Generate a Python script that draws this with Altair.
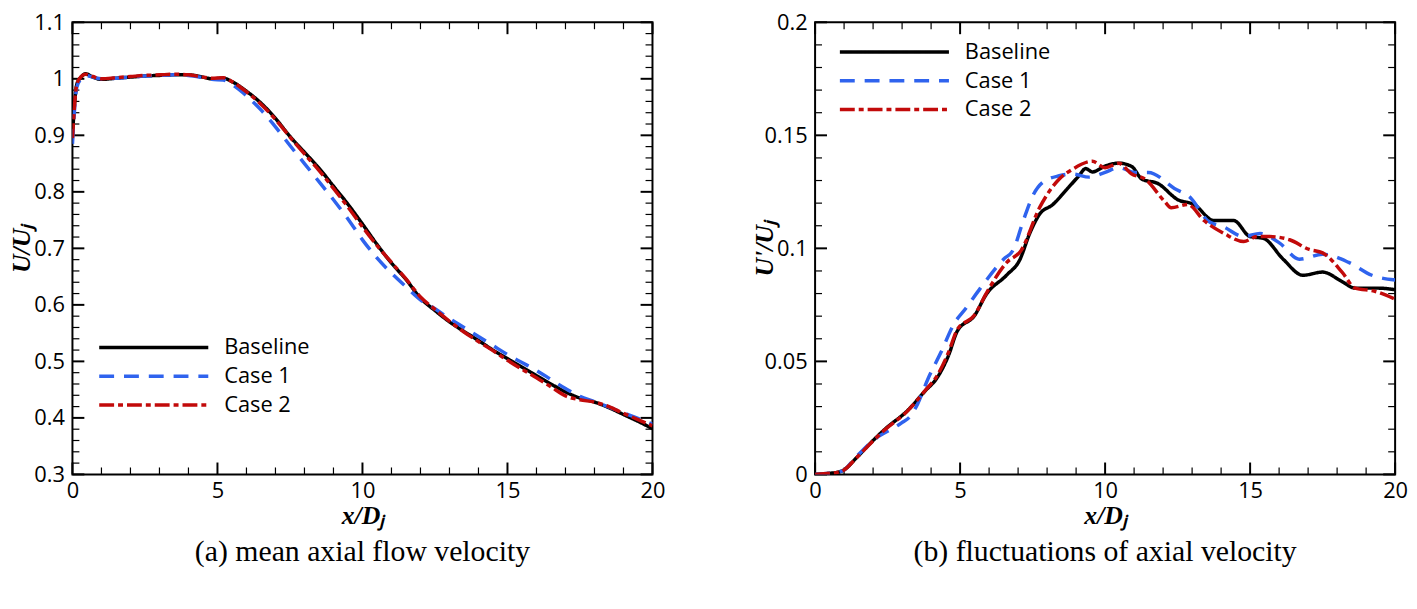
import altair as alt
import pandas as pd

SERIES = ["Baseline", "Case 1", "Case 2"]
COLORS = ["#000000", "#2f63ee", "#c20a0a"]
DASHES = [[1, 0], [15, 10], [15, 4, 5, 4]]

# ---------------- panel (a): mean axial flow velocity ----------------
A_X = [0, 0.15, 0.3, 0.45, 0.7, 1.0, 1.5, 2, 2.5, 3, 3.5, 4, 4.5, 4.8, 5.2,
       5.5, 6, 6.5, 7, 7.5, 8, 8.5, 9, 9.5, 10, 10.5, 11, 11.5, 12, 12.5,
       13, 13.5, 14, 14.5, 15, 15.5, 16, 16.5, 17, 17.5, 18, 18.5, 19, 19.5, 20]
A_BASE = [0.90, 0.99, 1.003, 1.009, 1.003, 0.999, 1.001, 1.003, 1.005, 1.006,
          1.007, 1.007, 1.003, 1.000, 1.001, 0.995, 0.978, 0.957, 0.930, 0.898,
          0.870, 0.842, 0.810, 0.778, 0.743, 0.707, 0.674, 0.645, 0.612, 0.590,
          0.570, 0.553, 0.537, 0.520, 0.505, 0.490, 0.475, 0.460, 0.446, 0.435,
          0.428, 0.418, 0.406, 0.394, 0.381]
A_CASE1 = [0.885, 0.985, 1.0, 1.006, 1.003, 1.0, 1.001, 1.003, 1.005, 1.006,
           1.007, 1.006, 1.002, 0.999, 0.998, 0.990, 0.970, 0.945, 0.915, 0.882,
           0.850, 0.818, 0.786, 0.752, 0.715, 0.683, 0.656, 0.632, 0.609, 0.593,
           0.576, 0.560, 0.544, 0.528, 0.512, 0.498, 0.484, 0.468, 0.452, 0.438,
           0.429, 0.419, 0.409, 0.399, 0.389]
A_CASE2 = [0.895, 0.99, 1.004, 1.008, 1.004, 1.0, 1.002, 1.004, 1.006, 1.007,
           1.008, 1.007, 1.003, 1.001, 1.002, 0.995, 0.977, 0.955, 0.928, 0.897,
           0.867, 0.838, 0.806, 0.773, 0.738, 0.705, 0.675, 0.646, 0.614, 0.592,
           0.571, 0.552, 0.535, 0.519, 0.502, 0.486, 0.471, 0.455, 0.439, 0.432,
           0.428, 0.420, 0.408, 0.397, 0.386]

# ---------------- panel (b): fluctuations of axial velocity ----------------
B_BASE_X = [0, 0.5, 0.8, 1.0, 1.4, 2.0, 2.4, 3.2, 3.8, 4.2, 4.6, 4.9, 5.5, 5.9,
            6.6, 7.06, 7.4, 7.74, 8.2, 8.65, 9.1, 9.33, 9.56, 10.0, 10.47, 10.92,
            11.26, 11.83, 12.51, 13.07, 13.75, 14.43, 15.0, 15.46, 16.14, 16.82,
            17.5, 18.17, 18.62, 19.42, 20]
B_BASE = [0, 0.0005, 0.001, 0.002, 0.007, 0.015, 0.0199, 0.0284, 0.037, 0.0426,
          0.0526, 0.0633, 0.0703, 0.0796, 0.0881, 0.095, 0.1066, 0.1151, 0.1194,
          0.1257, 0.1321, 0.1353, 0.1338, 0.1364, 0.1377, 0.1362, 0.1307, 0.1286,
          0.1215, 0.1194, 0.1123, 0.1123, 0.1052, 0.1044, 0.0952, 0.0881, 0.0895,
          0.0853, 0.0824, 0.0824, 0.0817]
B_CASE1_X = [0, 0.5, 0.8, 1.0, 1.4, 2.0, 2.97, 3.3, 3.54, 3.88, 4.34, 4.8, 5.2,
             5.7, 6.5, 6.84, 7.18, 7.52, 7.86, 8.42, 8.88, 9.45, 10.0, 10.47,
             11.03, 11.49, 12.39, 12.96, 13.53, 14.1, 14.78, 15.34, 16.02, 16.7,
             17.5, 18.4, 19.2, 20]
B_CASE1 = [0, 0.0005, 0.001, 0.002, 0.0075, 0.015, 0.0227, 0.026, 0.0313, 0.0419,
           0.054, 0.0668, 0.0735, 0.0824, 0.0952, 0.0995, 0.1123, 0.1236, 0.1293,
           0.1321, 0.1329, 0.1315, 0.1336, 0.1357, 0.1336, 0.1336, 0.1265, 0.1222,
           0.1123, 0.1094, 0.1052, 0.1066, 0.1023, 0.0952, 0.0974, 0.0938, 0.0881,
           0.086]
B_CASE2_X = [0, 0.5, 0.8, 1.0, 1.4, 2.0, 2.4, 3.2, 3.8, 4.2, 4.6, 4.9, 5.5, 5.9,
             6.61, 7.1, 7.74, 8.42, 8.88, 9.56, 10.0, 10.47, 10.92, 11.37, 12.05,
             12.28, 12.85, 13.41, 14.1, 14.78, 15.24, 15.68, 16.36, 17.04, 17.5,
             18.17, 18.62, 19.3, 20]
B_CASE2 = [0, 0.0005, 0.001, 0.002, 0.007, 0.0148, 0.0197, 0.0282, 0.0372, 0.0435,
           0.054, 0.064, 0.0705, 0.08, 0.0938, 0.099, 0.118, 0.1307, 0.135, 0.1385,
           0.1357, 0.1376, 0.1329, 0.1307, 0.1208, 0.118, 0.1194, 0.1123, 0.1066,
           0.103, 0.1052, 0.1052, 0.1038, 0.0995, 0.098, 0.0895, 0.0824, 0.081,
           0.0775]

# ---------------- ticks and labels ----------------
X_MAJOR = [0, 5, 10, 15, 20]
X_MINOR = [1, 2, 3, 4, 6, 7, 8, 9, 11, 12, 13, 14, 16, 17, 18, 19]
A_Y_MAJOR = [0.3, 0.4, 0.5, 0.6, 0.7, 0.8, 0.9, 1.0, 1.1]
A_Y_MINOR = [round(0.3 + 0.02 * i, 2) for i in range(41) if i % 5]
B_Y_MAJOR = [0, 0.05, 0.1, 0.15, 0.2]
B_Y_MINOR = [round(0.01 * i, 2) for i in range(21) if i % 5]

X_TITLE = "x/Dⱼ"
A_Y_TITLE = "U/Uⱼ"
B_Y_TITLE = "U'/Uⱼ"
A_CAPTION = "(a) mean axial flow velocity"
B_CAPTION = "(b) fluctuations of axial velocity"

W, H = 585, 456
MAJ, MINL = 12, 7


def long_df(parts):
    rows = []
    for name, xs, vs in parts:
        for xv, yv in zip(xs, vs):
            rows.append({"x": xv, "v": yv, "series": name})
    return pd.DataFrame(rows)


def panel(df, y_domain, y_major, y_minor, y_title, caption, lx, ly):
    xs = alt.Scale(domain=[0, 20], nice=False, zero=False)
    ys = alt.Scale(domain=y_domain, nice=False, zero=False)
    x_axis = alt.Axis(
        values=X_MAJOR, format="d", title=X_TITLE, ticks=False, domain=False,
        grid=False, labelFlush=False, labelFont="Open Sans", labelFontSize=22,
        labelColor="black", labelPadding=6, titleFont="Liberation Serif",
        titleFontStyle="italic", titleFontWeight="bold", titleFontSize=26,
        titleColor="black", titleY=42, titleBaseline="middle")
    y_axis = alt.Axis(
        values=y_major, format="~g", title=y_title, ticks=False, domain=False,
        grid=False, labelFont="Open Sans", labelFontSize=22, labelColor="black",
        labelPadding=8, titleFont="Liberation Serif", titleFontStyle="italic",
        titleFontWeight="bold", titleFontSize=26, titleColor="black",
        titleX=-51, titleY=H / 2, titleBaseline="middle")
    leg = alt.Legend(title=None, orient="none", legendX=lx, legendY=ly,
                     symbolType="stroke", symbolSize=12100, symbolStrokeWidth=3.5,
                     labelFont="Open Sans", labelFontSize=22, labelColor="black",
                     labelOffset=14, clipHeight=22, rowPadding=7, padding=0)
    lines = alt.Chart(df).mark_line(strokeWidth=3.5, clip=True, interpolate="monotone").encode(
        x=alt.X("x:Q", scale=xs, axis=x_axis),
        y=alt.Y("v:Q", scale=ys, axis=y_axis),
        color=alt.Color("series:N", scale=alt.Scale(domain=SERIES, range=COLORS), legend=leg),
        strokeDash=alt.StrokeDash("series:N", scale=alt.Scale(domain=SERIES, range=DASHES), legend=leg),
    )

    def xticks(vals, length, sw):
        d = pd.DataFrame({"x": vals})
        base = alt.Chart(d).mark_rule(color="black", strokeWidth=sw)
        bottom = base.encode(x=alt.X("x:Q", scale=xs, axis=x_axis),
                             y=alt.value(H), y2=alt.value(H - length))
        top = base.encode(x=alt.X("x:Q", scale=xs, axis=x_axis),
                          y=alt.value(0), y2=alt.value(length))
        return [bottom, top]

    def yticks(vals, length, sw):
        d = pd.DataFrame({"v": vals})
        base = alt.Chart(d).mark_rule(color="black", strokeWidth=sw)
        left = base.encode(y=alt.Y("v:Q", scale=ys, axis=y_axis),
                           x=alt.value(0), x2=alt.value(length))
        right = base.encode(y=alt.Y("v:Q", scale=ys, axis=y_axis),
                            x=alt.value(W), x2=alt.value(W - length))
        return [left, right]

    layers = (xticks(X_MINOR, MINL, 1.2) + xticks(X_MAJOR, MAJ, 2)
              + yticks(y_minor, MINL, 1.2) + yticks(y_major, MAJ, 2) + [lines])
    return alt.layer(*layers).properties(
        width=W, height=H,
        title=alt.TitleParams(caption, orient="bottom", frame="group", anchor="middle",
                              font="Liberation Serif", fontSize=30, fontWeight="normal",
                              color="black", offset=8),
    )


df_a = long_df([("Baseline", A_X, A_BASE), ("Case 1", A_X, A_CASE1), ("Case 2", A_X, A_CASE2)])
df_b = long_df([("Baseline", B_BASE_X, B_BASE), ("Case 1", B_CASE1_X, B_CASE1),
                ("Case 2", B_CASE2_X, B_CASE2)])

pa = panel(df_a, [0.3, 1.1], A_Y_MAJOR, A_Y_MINOR, A_Y_TITLE, A_CAPTION, 25, 317)
pb = panel(df_b, [0, 0.2], B_Y_MAJOR, B_Y_MINOR, B_Y_TITLE, B_CAPTION, 23, 19)

chart = alt.hconcat(pa, pb, spacing=85).resolve_scale(
    x="independent", y="independent", color="independent", strokeDash="independent"
).properties(
    padding={"left": 0, "top": 0, "right": 0, "bottom": 0}
).configure_view(stroke="black", strokeWidth=2)

chart.save("out.html", embed_options={"renderer": "svg", "actions": False})
